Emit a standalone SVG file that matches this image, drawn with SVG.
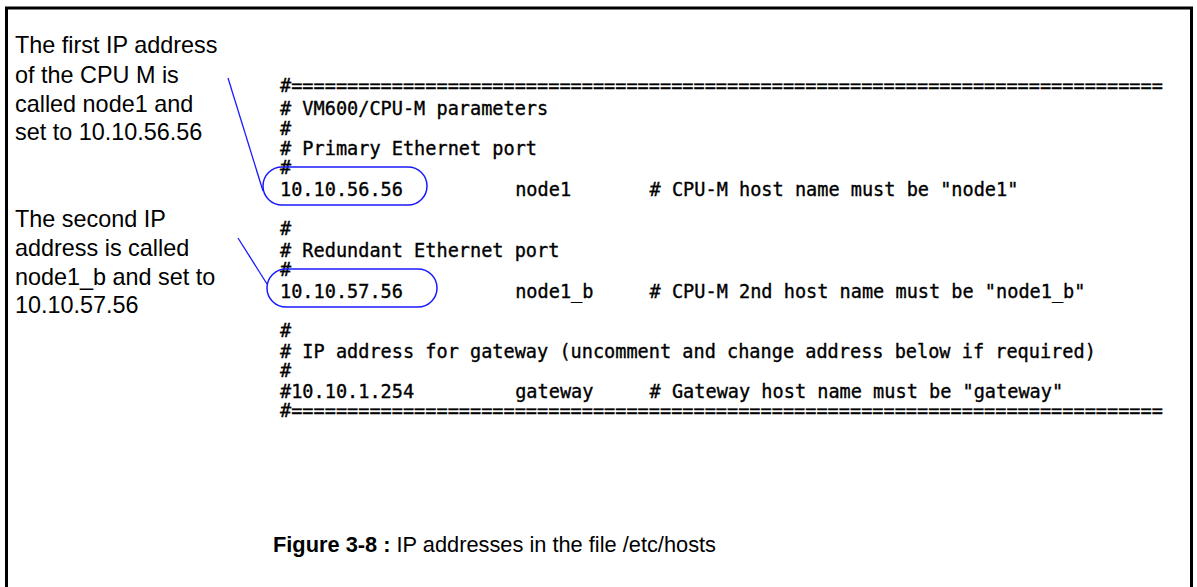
<svg xmlns="http://www.w3.org/2000/svg" width="1197" height="587" viewBox="0 0 1197 587">
<style>
.term{font-family:"DejaVu Sans Mono","Liberation Mono",monospace;font-size:18.57px;fill:#000;stroke:#000;stroke-width:0.35px;}
.note{font-family:"Liberation Sans",Arial,sans-serif;font-size:23.4px;fill:#000;}
.cap{font-family:"Liberation Sans",Arial,sans-serif;font-size:21.8px;fill:#000;}
.hl{fill:none;stroke:#1a1aff;stroke-width:1.5;}
.conn{stroke:#1a1aff;stroke-width:1.3;fill:none;}
</style>
<rect x="0" y="0" width="1197" height="587" fill="#fff"/>
<path d="M6.5,592 V8 H1191.5 V592" fill="none" stroke="#000" stroke-width="3"/>

<g id="note1">
<text class="note" x="15" y="53">The first IP address</text>
<text class="note" x="15" y="82.5">of the CPU M is</text>
<text class="note" x="15" y="111.5">called node1 and</text>
<text class="note" x="15" y="140">set to 10.10.56.56</text>
</g>

<g id="note2">
<text class="note" x="15" y="227">The second IP</text>
<text class="note" x="15" y="256">address is called</text>
<text class="note" x="15" y="285">node1_b and set to</text>
<text class="note" x="15" y="313">10.10.57.56</text>
</g>

<g id="hosts-file">
<text class="term" x="280" y="92">#==============================================================================</text>
<text class="term" x="280" y="115"># VM600/CPU-M parameters</text>
<text class="term" x="280" y="135">#</text>
<text class="term" x="280" y="155"># Primary Ethernet port</text>
<text class="term" x="280" y="174">#</text>
<text class="term" x="280" y="196">10.10.56.56</text>
<text class="term" x="515.2" y="196">node1</text>
<text class="term" x="649.6" y="196"># CPU-M host name must be "node1"</text>
<text class="term" x="280" y="235">#</text>
<text class="term" x="280" y="257"># Redundant Ethernet port</text>
<text class="term" x="280" y="276">#</text>
<text class="term" x="280" y="298">10.10.57.56</text>
<text class="term" x="515.2" y="298">node1_b</text>
<text class="term" x="649.6" y="298"># CPU-M 2nd host name must be "node1_b"</text>
<text class="term" x="280" y="337">#</text>
<text class="term" x="280" y="358"># IP address for gateway (uncomment and change address below if required)</text>
<text class="term" x="280" y="377">#</text>
<text class="term" x="280" y="398">#10.10.1.254</text>
<text class="term" x="515.2" y="398">gateway</text>
<text class="term" x="649.6" y="398"># Gateway host name must be "gateway"</text>
<text class="term" x="280" y="417">#==============================================================================</text>
</g>

<g id="highlight1">
<rect class="hl" x="263" y="167" width="164" height="38" rx="19" ry="19"/>
</g>
<g id="highlight2">
<rect class="hl" x="267" y="269" width="170" height="38" rx="19" ry="19"/>
</g>

<g id="connectors">
<line class="conn" x1="228" y1="78" x2="263" y2="191"/>
<line class="conn" x1="238" y1="238" x2="267" y2="284"/>
</g>

<g id="caption">
<text class="cap" x="273" y="552"><tspan font-weight="bold">Figure 3-8 :</tspan> IP addresses in the file /etc/hosts</text>
</g>
</svg>
